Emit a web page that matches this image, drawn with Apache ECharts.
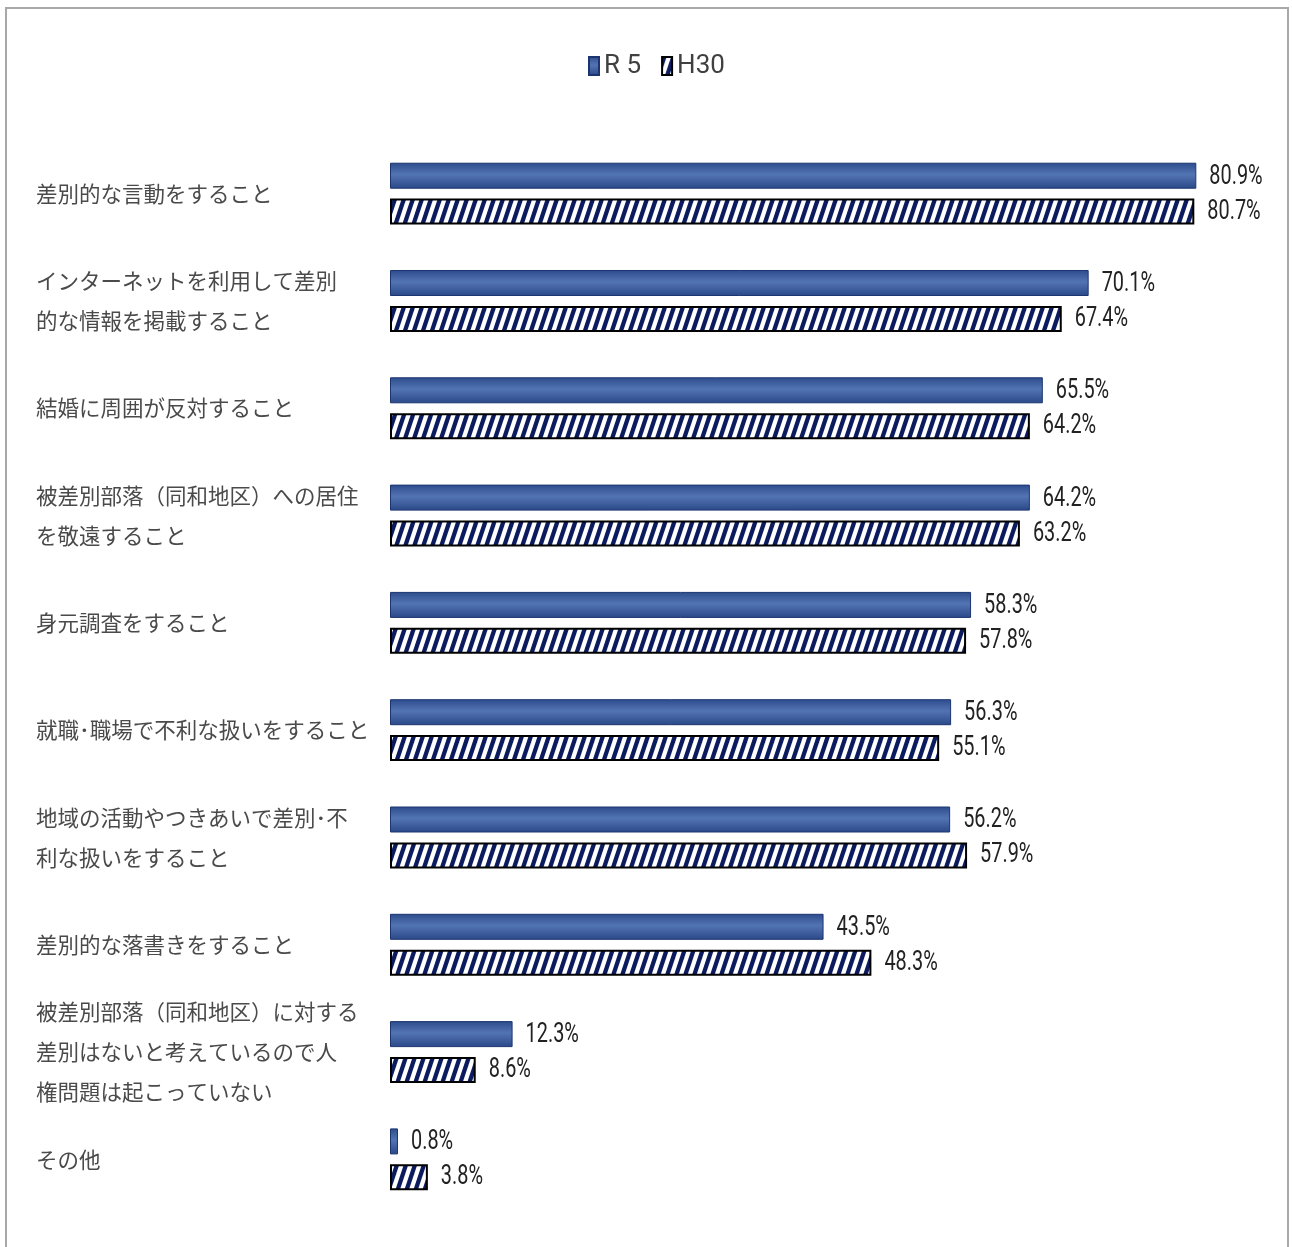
<!DOCTYPE html>
<html>
<head>
<meta charset="utf-8">
<script src="https://cdn.jsdelivr.net/npm/echarts@6/dist/echarts.min.js"></script>
<style>
  html, body { margin: 0; padding: 0; background: #fff; }
  #bar-chart { width: 1292px; height: 1247px; }
</style>
</head>
<body>
<div id="bar-chart"></div>
<script>
// 項目（上から順）
const categories = [
  '差別的な言動をすること',
  'インターネットを利用して差別\n的な情報を掲載すること',
  '結婚に周囲が反対すること',
  '被差別部落（同和地区）への居住\nを敬遠すること',
  '身元調査をすること',
  '就職･職場で不利な扱いをすること',
  '地域の活動やつきあいで差別･不\n利な扱いをすること',
  '差別的な落書きをすること',
  '被差別部落（同和地区）に対する\n差別はないと考えているので人\n権問題は起こっていない',
  'その他'
]
const seriesNames = ['R 5', 'H30']
const r5Values = [80.9, 70.1, 65.5, 64.2, 58.3, 56.3, 56.2, 43.5, 12.3, 0.8]
const h30Values = [80.7, 67.4, 64.2, 63.2, 57.8, 55.1, 57.9, 48.3, 8.6, 3.8]

const numFont = 'Roboto, "Liberation Sans", sans-serif'
const jpFont = '"Noto Sans CJK JP", sans-serif'

// 斜線の塗りパターン
function makeHatch() {
  const c = document.createElement('canvas')
  c.width = 9
  c.height = 27
  const ctx = c.getContext('2d')
  ctx.fillStyle = '#ffffff'
  ctx.fillRect(0, 0, 9, 27)
  ctx.fillStyle = '#0b1b5e'
  for (let k = -1; k <= 1; k++) {
    const x = k * 9
    ctx.beginPath()
    ctx.moveTo(x, 27)
    ctx.lineTo(x + 4.5, 27)
    ctx.lineTo(x + 13.5, 0)
    ctx.lineTo(x + 9, 0)
    ctx.closePath()
    ctx.fill()
  }
  return c
}

let chart = echarts.init(document.getElementById('bar-chart'))

const r5Color = new echarts.graphic.LinearGradient(0, 0, 0, 1, [
  {offset: 0, color: '#2c4b8c'},
  {offset: 0.45, color: '#5374b3'},
  {offset: 1, color: '#2a4888'}
])

// 値ラベル（細長い数字にするため横方向に縮める）
function labelRenderer(dy) {
  return function (params, api) {
    const v = api.value(0)
    const p = api.coord([v, api.value(1)])
    return {
      type: 'text',
      x: p[0] + 13,
      y: p[1] + dy,
      scaleX: 0.71,
      silent: true,
      style: {
        text: v.toFixed(1) + '%',
        fontFamily: numFont,
        fontSize: 28,
        fill: '#222',
        align: 'left',
        verticalAlign: 'middle'
      }
    }
  }
}

const option = {
  animation: false,
  backgroundColor: '#fff',
  graphic: [{
    type: 'rect',
    shape: {x: 6, y: 8, width: 1282, height: 1300},
    style: {fill: 'none', stroke: '#a8a8a8', lineWidth: 2},
    silent: true
  }],
  legend: {
    top: 48,
    left: 583,
    itemWidth: 10,
    itemHeight: 18,
    itemGap: 20,
    icon: 'rect',
    textStyle: {fontFamily: numFont, fontSize: 26, color: '#404040'},
    data: seriesNames
  },
  grid: {left: 390, top: 140, height: 1073, width: 897},
  xAxis: {
    type: 'value', min: 0, max: 90,
    show: false
  },
  yAxis: {
    type: 'category',
    inverse: true,
    data: categories,
    axisLine: {show: false},
    axisTick: {show: false},
    axisLabel: {
      align: 'left',
      margin: 354,
      fontFamily: jpFont,
      fontSize: 21.5,
      lineHeight: 40,
      color: '#4a4a4a'
    }
  },
  series: [
    {
      name: seriesNames[0],
      type: 'bar',
      data: r5Values,
      barWidth: 26,
      barGap: '38%',
      itemStyle: {color: r5Color, borderColor: '#1c3570', borderWidth: 1}
    },
    {
      name: seriesNames[1],
      type: 'bar',
      data: h30Values,
      barWidth: 26,
      itemStyle: {
        color: {image: makeHatch(), repeat: 'repeat'},
        borderColor: '#000',
        borderWidth: 2
      }
    },
    {
      name: 'r5-label',
      type: 'custom',
      data: r5Values.map((v, i) => [v, i]),
      encode: {x: 0, y: 1},
      renderItem: labelRenderer(-17),
      z: 5
    },
    {
      name: 'h30-label',
      type: 'custom',
      data: h30Values.map((v, i) => [v, i]),
      encode: {x: 0, y: 1},
      renderItem: labelRenderer(18),
      z: 5
    }
  ]
}

chart.setOption(option)
</script>
</body>
</html>
